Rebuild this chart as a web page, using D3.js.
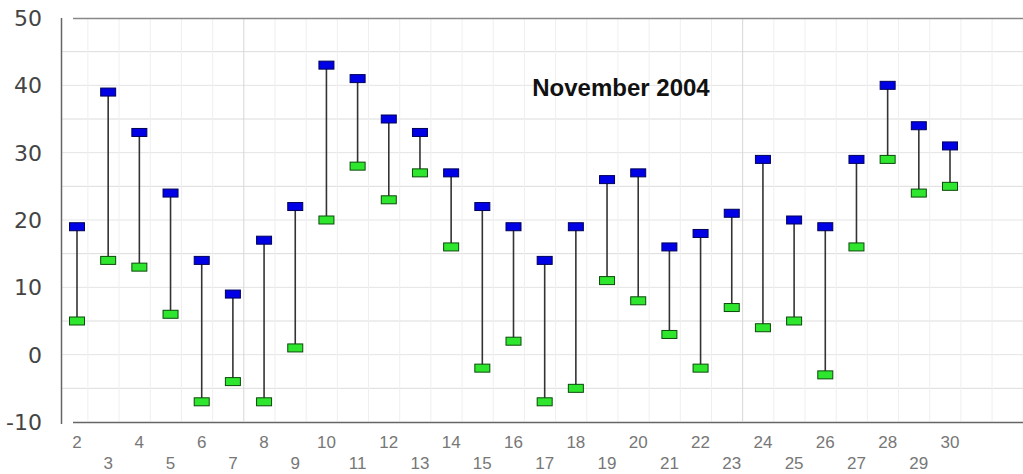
<!DOCTYPE html>
<html>
<head>
<meta charset="utf-8">
<script src="https://cdn.jsdelivr.net/npm/d3@7"></script>
<style>
  body { margin: 0; background: #fff; }
  svg { display: block; }
</style>
</head>
<body>
<div id="chart"></div>
<script>
const days = [2, 3, 4, 5, 6, 7, 8, 9, 10, 11, 12, 13, 14, 15, 16, 17, 18, 19, 20, 21, 22, 23, 24, 25, 26, 27, 28, 29, 30];
const highs = [19, 39, 33, 24, 14, 9, 17, 22, 43, 41, 35, 33, 27, 22, 19, 14, 19, 26, 27, 16, 18, 21, 29, 20, 19, 29, 40, 34, 31];
const lows = [5, 14, 13, 6, -7, -4, -7, 1, 20, 28, 23, 27, 16, -2, 2, -7, -5, 11, 8, 3, -2, 7, 4, 5, -3, 16, 29, 24, 25];
const yTicks = [-10, 0, 10, 20, 30, 40, 50];
const title = "November 2004";

const width = 1023, height = 474;

const svg = d3.select("#chart")
    .append("svg")
    .attr("width", width)
    .attr("height", height);

const x = d3.scaleLinear().domain([2, 30]).range([77, 950]);
const y = d3.scaleLinear().domain([-10, 50]).range([422, 18]);

// faint grid
const grid = svg.append("g");
grid.selectAll("line.h")
    .data(d3.range(-5, 50, 5))
    .enter().append("line")
    .attr("x1", 62).attr("x2", width)
    .attr("y1", d => y(d)).attr("y2", d => y(d))
    .attr("stroke", d => d % 10 === 0 ? "#e4e4e4" : "#dcdcdc")
    .attr("stroke-width", 1);

grid.selectAll("line.v")
    .data(d3.range(2.35, 33, 1))
    .enter().append("line")
    .attr("x1", d => x(d)).attr("x2", d => x(d))
    .attr("y1", 19).attr("y2", 421)
    .attr("stroke", (d, i) => (i === 5 || i === 21) ? "#d6d6d6" : "#efefef")
    .attr("stroke-width", 1);

// frame lines
svg.append("line")
    .attr("x1", 61.5).attr("x2", 61.5)
    .attr("y1", 18).attr("y2", 424)
    .attr("stroke", "#666").attr("stroke-width", 1.5);
svg.append("line")
    .attr("x1", 73).attr("x2", width)
    .attr("y1", 18.5).attr("y2", 18.5)
    .attr("stroke", "#888").attr("stroke-width", 1.5);
svg.append("line")
    .attr("x1", 73).attr("x2", width)
    .attr("y1", 422.5).attr("y2", 422.5)
    .attr("stroke", "#666").attr("stroke-width", 1.5);

// y labels
svg.append("g").selectAll("text")
    .data(yTicks)
    .enter().append("text")
    .attr("x", 42)
    .attr("y", d => y(d))
    .attr("dy", "0.36em")
    .attr("text-anchor", "end")
    .style("font-family", "'DejaVu Sans', sans-serif")
    .style("font-size", "22px")
    .style("fill", "#444")
    .text(d => d);

// x labels, alternating rows
svg.append("g").selectAll("text")
    .data(days)
    .enter().append("text")
    .attr("x", d => x(d))
    .attr("y", d => d % 2 === 0 ? 448 : 469)
    .attr("text-anchor", "middle")
    .style("font-family", "'Liberation Sans', Arial, sans-serif")
    .style("font-size", "17px")
    .style("fill", "#777")
    .text(d => d);

const data = days.map((d, i) => ({ day: d, high: highs[i], low: lows[i] }));

// high-low stems
svg.append("g").selectAll("line")
    .data(data)
    .enter().append("line")
    .attr("x1", d => x(d.day)).attr("x2", d => x(d.day))
    .attr("y1", d => y(d.high)).attr("y2", d => y(d.low))
    .attr("stroke", "#333")
    .attr("stroke-width", 1.6);

const mw = 15, mh = 8;

// lows (green)
svg.append("g").selectAll("rect")
    .data(data)
    .enter().append("rect")
    .attr("x", d => x(d.day) - mw / 2)
    .attr("y", d => y(d.low) - mh / 2)
    .attr("width", mw).attr("height", mh)
    .attr("fill", "#2ee62e")
    .attr("stroke", "#0a4a0a")
    .attr("stroke-width", 1);

// highs (blue)
svg.append("g").selectAll("rect")
    .data(data)
    .enter().append("rect")
    .attr("x", d => x(d.day) - mw / 2)
    .attr("y", d => y(d.high) - mh / 2)
    .attr("width", mw).attr("height", mh)
    .attr("fill", "#0000e6")
    .attr("stroke", "#00005a")
    .attr("stroke-width", 1);

// title
svg.append("text")
    .attr("x", 621)
    .attr("y", 96)
    .attr("text-anchor", "middle")
    .style("font-family", "'Liberation Sans', Arial, sans-serif")
    .style("font-weight", "bold")
    .style("font-size", "24px")
    .style("fill", "#111")
    .text(title);
</script>
</body>
</html>
